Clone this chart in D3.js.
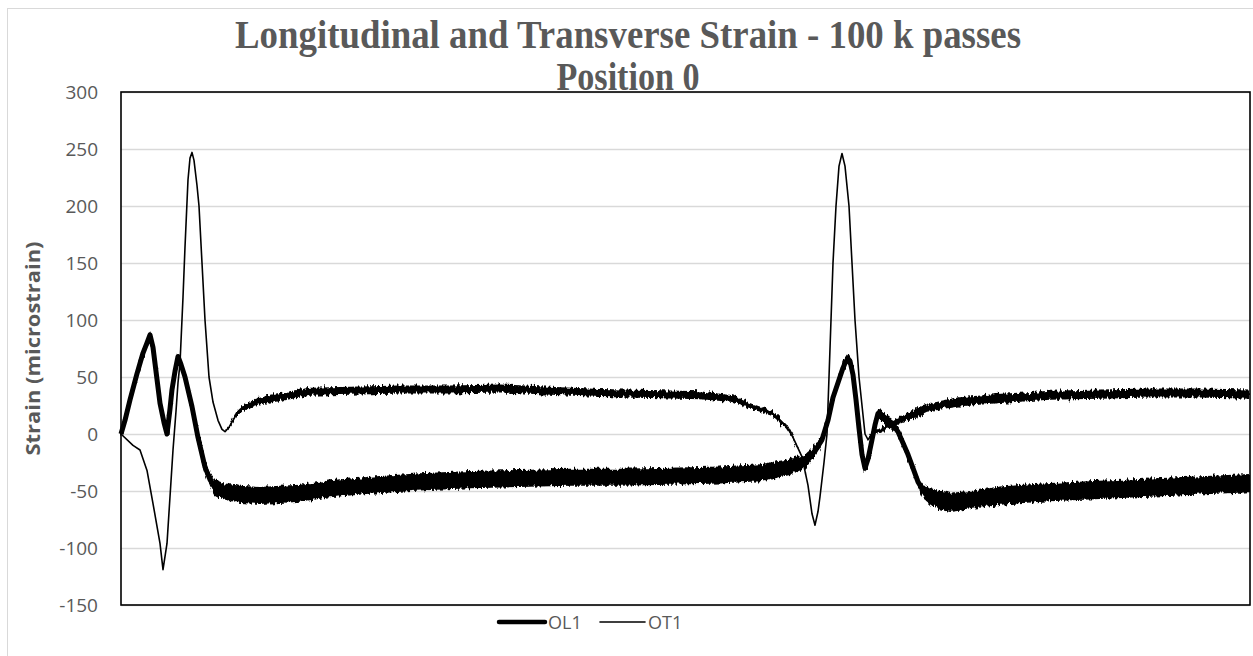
<!DOCTYPE html>
<html>
<head>
<meta charset="utf-8">
<script src="https://cdnjs.cloudflare.com/ajax/libs/d3/7.8.5/d3.min.js"></script>
<style>
  html, body { margin: 0; padding: 0; background: #fff; }
  svg { display: block; }
</style>
</head>
<body>
<svg id="chart" width="1253" height="656"></svg>
<script>
// ---- Data ----
const titleLines = ["Longitudinal and Transverse Strain - 100 k passes", "Position 0"];
const yAxisTitle = "Strain (microstrain)";
const yTicks = [-150, -100, -50, 0, 50, 100, 150, 200, 250, 300];
const seriesNames = ["OL1", "OT1"];

// OL1 (longitudinal): sample index, centre value, half-width of noise band
const ol1X = [0,4,9,16,22,26,29,32,34,39,43,46,49,51,54,57,60,64,71,77,84,89,94,101,119,139,159,179,209,249,299,349,399,449,499,549,599,639,669,684,694,701,707,712,717,722,724,727,729,732,735,738,741,744,747,751,754,757,761,766,772,777,782,787,792,797,804,814,829,849,879,929,979,1029,1079,1129];
const ol1Y = [0,12,30,53,71,80,87,76,62,27,10,0,22,39,55,68,61,50,24,-3,-29,-40,-47,-50,-53,-54,-53,-52,-48,-45,-42,-40,-39,-38,-38,-37,-36,-34,-29,-24,-15,-5,12,32,45,58,62,66,64,52,30,5,-18,-30,-22,-5,8,18,16,12,8,2,-8,-18,-30,-42,-52,-57,-60,-58,-54,-51,-49,-47,-45,-43];
const ol1Spread = [2,2.5,3,3,3,3,3,3,3,3,3,3,3,3,3,3,3,3,3.5,4,4.5,5.5,6.5,7,7.5,7.5,7.5,7.5,7.5,7.5,7.5,7.5,7.5,7.5,7.5,7.5,7.5,7.5,7,6,5,4,3.5,3.5,3.5,4,4.5,4.5,3.5,3.5,3.5,3.5,3.5,3.5,3.5,3.5,3.5,4.5,4.5,4.5,4.5,3.5,3.5,3.5,3.5,4,6,8,8.5,8,8,8,8,8,8,8];

// OT1 (transverse)
const ot1X = [0,12,19,26,32,39,42,46,49,52,55,57,59,62,64,67,69,71,73,76,78,81,84,88,92,97,101,104,108,112,116,124,134,149,169,189,229,279,329,379,429,479,529,579,612,629,652,666,672,681,687,691,694,697,699,703,706,708,710,712,715,718,721,724,728,731,734,738,744,747,751,759,769,779,794,806,836,876,929,979,1029,1079,1129];
const ot1Y = [0,-10,-14,-32,-61,-96,-119,-96,-55,-14,20,45,62,120,164,223,242,247,240,218,200,150,100,50,28,12,4,2,6,12,18,24,28,31,34,37,38,39,39,40,38,36,35,34,31,25,18,6,-3,-20,-45,-70,-80,-68,-55,-25,0,50,100,150,200,235,246,235,200,150,100,50,0,-5,0,3,8,12,18,23,28,31,34,35,36,36,35];
const ot1Spread = [0,0,0,0,0,0,0,0,0,0,0,0,0,0,0,0,0,0,0,0,0,0,0,0,0,0,0,0.5,1,1.5,2,2.5,3,3.5,3.5,3.5,3.5,3.5,3.5,3.5,3.5,3.5,3.5,3.5,3,2.5,2.5,2,1,0.5,0,0,0,0,0,0,0,0,0,0,0,0,0,0,0,0,0,0,0,0.5,1,2,2.5,3,3.5,3.5,4,4,4,4,4,4,4];

// ---- Layout ----
const svg = d3.select("#chart");
const plot = { left: 121, top: 92, right: 1250, bottom: 605 };
const textGrey = "#595959";

// roughening filter for the noisy bands (visual texture only)
const defs = svg.append("defs");
const flt = defs.append("filter").attr("id", "rough")
  .attr("x", "-2%").attr("y", "-10%").attr("width", "104%").attr("height", "120%");
flt.append("feTurbulence").attr("type", "fractalNoise")
  .attr("baseFrequency", "0.45 0.08").attr("numOctaves", 2).attr("seed", 3).attr("result", "noise");
flt.append("feDisplacementMap").attr("in", "SourceGraphic").attr("in2", "noise")
  .attr("scale", 7).attr("xChannelSelector", "B").attr("yChannelSelector", "G");

// outer chart border
svg.append("rect")
  .attr("x", 7.5).attr("y", 8.5)
  .attr("width", 1260).attr("height", 660)
  .attr("fill", "#fff").attr("stroke", "#d9d9d9").attr("stroke-width", 1);

const x = d3.scaleLinear().domain([0, 1129]).range([plot.left, plot.right]);
const y = d3.scaleLinear().domain([-150, 300]).range([plot.bottom, plot.top]);

// gridlines
svg.append("g")
  .attr("transform", `translate(${plot.left},0)`)
  .call(d3.axisRight(y).tickValues(yTicks).tickSize(plot.right - plot.left).tickFormat(""))
  .call(g => g.select(".domain").remove())
  .call(g => g.selectAll("line").attr("stroke", "#d9d9d9").attr("stroke-width", 1.3));

// y tick labels
svg.append("g")
  .attr("transform", `translate(${plot.left - 23},0)`)
  .call(d3.axisLeft(y).tickValues(yTicks).tickSize(0).tickPadding(0).tickFormat(d => String(d)))
  .call(g => g.select(".domain").remove())
  .call(g => g.selectAll("text")
    .attr("fill", textGrey)
    .style("font-family", "'Open Sans', 'Noto Sans', sans-serif")
    .style("font-size", "19px"));

// series drawing
function drawSeries(xs, ys, ss, width) {
  const pts = xs.map((d, i) => ({ x: d, v: ys[i], s: ss[i] }));
  const area = d3.area()
    .x(d => x(d.x))
    .y0(d => y(d.v - d.s))
    .y1(d => y(d.v + d.s));
  svg.append("path").datum(pts)
    .attr("d", area).attr("fill", "#000")
    .attr("stroke", "none")
    .attr("filter", "url(#rough)");
  const line = d3.line().x(d => x(d.x)).y(d => y(d.v));
  svg.append("path").datum(pts)
    .attr("d", line)
    .attr("fill", "none")
    .attr("stroke", "#000")
    .attr("stroke-width", width)
    .attr("stroke-linejoin", "round");
}
drawSeries(ol1X, ol1Y, ol1Spread, 5);
drawSeries(ot1X, ot1Y, ot1Spread, 1.6);

// plot border
svg.append("rect")
  .attr("x", plot.left).attr("y", plot.top)
  .attr("width", plot.right - plot.left).attr("height", plot.bottom - plot.top)
  .attr("fill", "none").attr("stroke", "#000").attr("stroke-width", 1.6);

// title
const titleWidths = [786, 143];
const titleBase = [48, 90];
titleLines.forEach((t, i) => {
  svg.append("text")
    .attr("x", 628).attr("y", titleBase[i])
    .attr("text-anchor", "middle")
    .attr("textLength", titleWidths[i])
    .attr("lengthAdjust", "spacingAndGlyphs")
    .attr("fill", textGrey)
    .style("font-family", "'Liberation Serif', 'Times New Roman', serif")
    .style("font-weight", "bold")
    .style("font-size", "40px")
    .text(t);
});

// y axis title
svg.append("text")
  .attr("transform", `translate(40,${(plot.top + plot.bottom) / 2}) rotate(-90)`)
  .attr("text-anchor", "middle")
  .attr("textLength", 214)
  .attr("lengthAdjust", "spacingAndGlyphs")
  .attr("fill", textGrey)
  .style("font-family", "'Open Sans', 'Noto Sans', sans-serif")
  .style("font-weight", "bold")
  .style("font-size", "19px")
  .text(yAxisTitle);

// legend
const legendItems = [
  { name: seriesNames[0], x0: 499, x1: 545, w: 4.5 },
  { name: seriesNames[1], x0: 600, x1: 645, w: 1.6 }
];
const legY = 622;
legendItems.forEach(it => {
  svg.append("line")
    .attr("x1", it.x0).attr("x2", it.x1)
    .attr("y1", legY).attr("y2", legY)
    .attr("stroke", "#000").attr("stroke-width", it.w)
    .attr("stroke-linecap", "round");
  svg.append("text")
    .attr("x", it.x1 + 3).attr("y", legY + 6.5)
    .attr("fill", textGrey)
    .style("font-family", "'Open Sans', 'Noto Sans', sans-serif")
    .style("font-size", "18px")
    .text(it.name);
});
</script>
</body>
</html>
